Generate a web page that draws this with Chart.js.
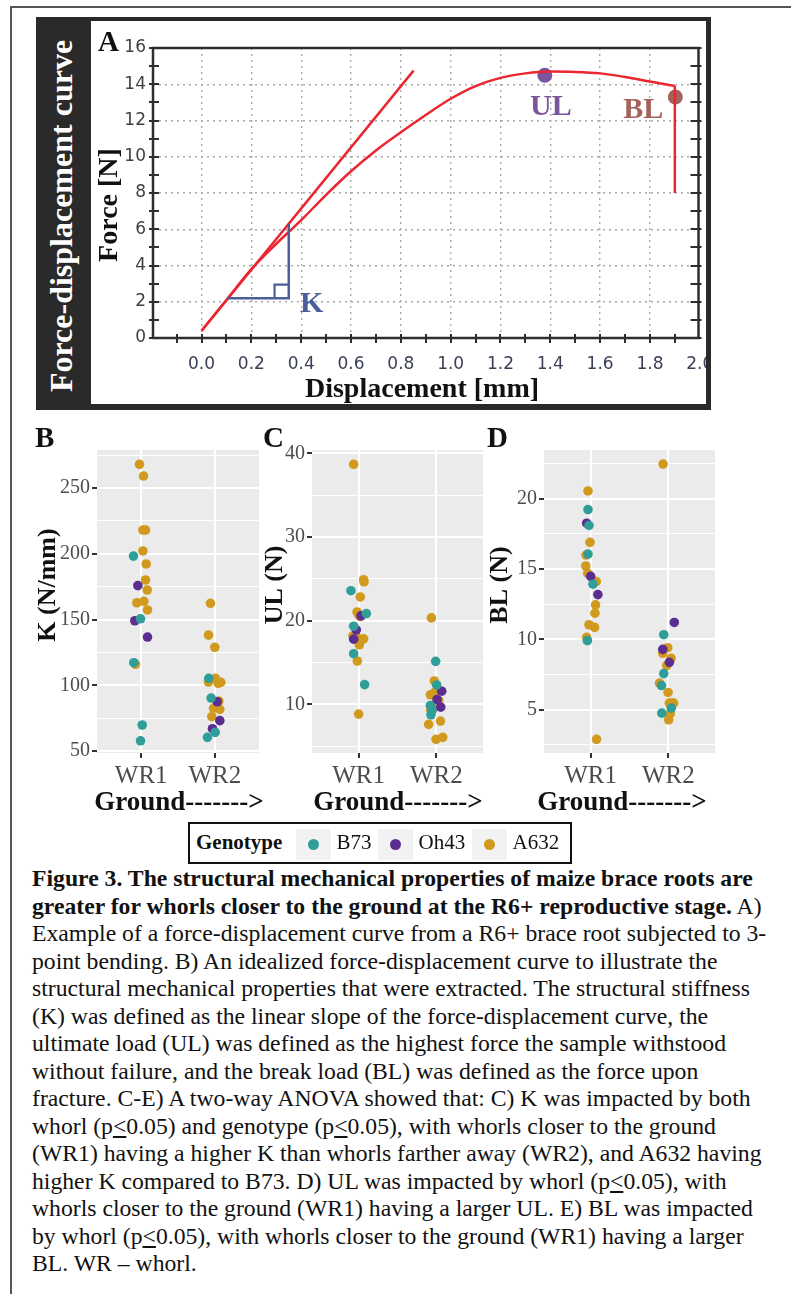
<!DOCTYPE html>
<html>
<head>
<meta charset="utf-8">
<title>Figure 3</title>
<script src="https://cdn.jsdelivr.net/npm/chart.js@4.4.1/dist/chart.umd.min.js"></script>
<style>
  html, body { margin: 0; padding: 0; background: #fff; }
  body { position: relative; width: 791px; height: 1294px; overflow: hidden;
         font-family: "Liberation Serif", "Times New Roman", serif; color: #111; }
  .frame { position: absolute; left: 10px; top: 6px; width: 820px; height: 1320px;
           border-left: 2px solid #555; border-top: 2px solid #555; }
  .boxA { position: absolute; left: 36px; top: 17px; width: 675px; height: 393px; background: #2a2a2a; }
  .stripA { position: absolute; left: -139px; top: 195.5px; width: 400px; height: 40px; line-height: 40px;
            text-align: center; color: #fff; font-weight: bold; font-size: 32px; white-space: nowrap;
            transform: rotate(-90deg); }
  canvas { position: absolute; }
  #chartA { left: 91px; top: 21px; background: #fff; }
  #chartB { left: 30px; top: 420px; }
  #chartC { left: 255px; top: 420px; }
  #chartD { left: 483px; top: 420px; }
  .legend { position: absolute; left: 188px; top: 822px; width: 380px; height: 38px; border: 2px solid #111; }
  .lg-title { position: absolute; left: 196px; top: 830px; font-size: 21px; line-height: 24px; font-weight: bold; }
  .key { position: absolute; top: 829px; width: 35px; height: 31px; background: #f2f2f2; }
  .key .dot { position: absolute; left: 11.5px; top: 9.5px; width: 11.6px; height: 11.6px; border-radius: 50%; }
  .lg-text { position: absolute; top: 830px; font-size: 21px; line-height: 24px; }
  .caption { position: absolute; left: 32px; top: 865px; font-size: 23.7px; line-height: 27.5px; white-space: nowrap; color: #111; }
</style>
</head>
<body>
<div class="frame"></div>
<div class="boxA"></div>
<div class="stripA">Force-displacement curve</div>
<canvas id="chartA" width="615" height="383"></canvas>
<canvas id="chartB" width="234" height="400"></canvas>
<canvas id="chartC" width="233" height="400"></canvas>
<canvas id="chartD" width="237" height="400"></canvas>
<div class="legend"></div>
<div class="lg-title">Genotype</div>
<div class="caption">
  <div><b>Figure 3. The structural mechanical properties of maize brace roots are</b></div>
  <div><b>greater for whorls closer to the ground at the R6+ reproductive stage.</b> A)</div>
  <div>Example of a force-displacement curve from a R6+ brace root subjected to 3-</div>
  <div>point bending. B) An idealized force-displacement curve to illustrate the</div>
  <div>structural mechanical properties that were extracted. The structural stiffness</div>
  <div>(K) was defined as the linear slope of the force-displacement curve, the</div>
  <div>ultimate load (UL) was defined as the highest force the sample withstood</div>
  <div>without failure, and the break load (BL) was defined as the force upon</div>
  <div>fracture. C-E) A two-way ANOVA showed that: C) K was impacted by both</div>
  <div>whorl (p<u>&lt;</u>0.05) and genotype (p<u>&lt;</u>0.05), with whorls closer to the ground</div>
  <div>(WR1) having a higher K than whorls farther away (WR2), and A632 having</div>
  <div>higher K compared to B73. D) UL was impacted by whorl (p<u>&lt;</u>0.05), with</div>
  <div>whorls closer to the ground (WR1) having a larger UL. E) BL was impacted</div>
  <div>by whorl (p<u>&lt;</u>0.05), with whorls closer to the ground (WR1) having a larger</div>
  <div>BL. WR &ndash; whorl.</div>
</div>

<script>
// ---- panel A: example force-displacement trace ----
const TRACE_X = [0, 0.1, 0.2, 0.3, 0.4, 0.5, 0.6, 0.7, 0.8, 0.9, 1.0, 1.1, 1.2, 1.3, 1.4, 1.5, 1.6, 1.7, 1.8, 1.9];
const TRACE_F = [0.4, 2.1, 3.8, 5.2, 6.5, 7.9, 9.2, 10.35, 11.35, 12.3, 13.2, 13.9, 14.35, 14.6, 14.7, 14.68, 14.6, 14.4, 14.15, 13.9];
const BREAK_X = [1.9, 1.9];
const BREAK_F = [13.9, 8.0];
const SLOPE_X = [0, 0.851];
const SLOPE_F = [0.4, 14.75];
const UL_AT = [1.378, 14.5];
const BL_AT = [1.902, 13.3];
const K_LEG_X = [0.106, 0.35, 0.35];
const K_LEG_F = [2.2, 2.2, 6.3];
const K_BOX_X = [0.293, 0.293, 0.35];
const K_BOX_F = [2.2, 2.95, 2.95];
const A_X_TICKS = [-0.1, 0, 0.1, 0.2, 0.3, 0.4, 0.5, 0.6, 0.7, 0.8, 0.9, 1.0, 1.1, 1.2, 1.3, 1.4, 1.5, 1.6, 1.7, 1.8, 1.9, 2.0];
const A_Y_TICKS = [0, 1, 2, 3, 4, 5, 6, 7, 8, 9, 10, 11, 12, 13, 14, 15, 16];

// ---- panels B-D: jittered points per whorl, [jitter, value] ----
const WHORLS = ['WR1', 'WR2'];
const GENOTYPES = ['B73', 'Oh43', 'A632'];
const GENO_COLORS = ['#2f9e98', '#5c2d91', '#d19a1e'];

const K_B73_WR1 = [[-0.105, 198.3], [-0.009, 150.6], [-0.1, 117.2], [0.014, 69.8], [-0.009, 57.8]];
const K_OH43_WR1 = [[-0.045, 175.8], [-0.086, 149.1], [0.086, 136.7]];
const K_A632_WR1 = [[-0.023, 268.1], [0.032, 259.2], [0.023, 218.1], [0.059, 218.1], [0.023, 202.2], [0.068, 192.3],
                    [0.059, 180.1], [0.082, 172.5], [-0.059, 162.8], [0.036, 163.9], [0.086, 157.3], [-0.077, 116]];
const K_B73_WR2 = [[-0.082, 105.3], [-0.05, 90.3], [0.005, 64.2], [-0.1, 60.4]];
const K_OH43_WR2 = [[0.032, 87.5], [0.068, 73.1], [-0.032, 67]];
const K_A632_WR2 = [[-0.059, 162.4], [-0.086, 138.2], [0, 128.9], [0.009, 105.3], [-0.086, 102.5], [0.045, 101.5],
                    [0.082, 102.3], [0.055, 88], [-0.018, 82.5], [0.068, 81.7], [-0.041, 76.1]];

const UL_B73_WR1 = [[-0.099, 23.59], [0.099, 20.86], [-0.064, 19.35], [-0.064, 16.06], [0.077, 12.37]];
const UL_OH43_WR1 = [[0.03, 20.58], [-0.03, 18.91], [-0.064, 17.8]];
const UL_A632_WR1 = [[-0.064, 38.69], [0.064, 24.9], [0.069, 24.66], [0.021, 22.84], [-0.021, 21.05], [0.004, 20.66],
                     [0.021, 20.5], [-0.073, 18.2], [-0.03, 18.12], [0.064, 17.84], [0.009, 17.13], [-0.017, 15.19], [0, 8.85]];
const UL_B73_WR2 = [[-0.009, 15.15], [0.004, 12.33], [-0.077, 9.88], [-0.056, 9.28], [-0.069, 8.77]];
const UL_OH43_WR2 = [[0.069, 11.58], [0.009, 10.59], [0.056, 9.68]];
const UL_A632_WR2 = [[-0.064, 20.34], [-0.026, 12.81], [-0.013, 11.54], [-0.077, 11.15], [0.03, 10.47], [-0.004, 10.15],
                     [-0.043, 9.48], [-0.073, 9.36], [0.052, 8.01], [-0.099, 7.62], [0.082, 6.07], [-0.004, 5.83]];

const BL_B73_WR1 = [[-0.034, 19.22], [-0.021, 18.09], [-0.034, 16.06], [0.03, 13.92], [-0.042, 9.91]];
const BL_OH43_WR1 = [[-0.051, 18.25], [0, 14.48], [0.093, 13.18]];
const BL_A632_WR1 = [[-0.034, 20.54], [-0.008, 16.89], [-0.059, 15.99], [-0.063, 15.21], [-0.038, 14.69], [0.072, 14.1],
                     [0.063, 12.45], [0.055, 11.86], [-0.021, 11.04], [0.051, 10.85], [-0.051, 10.14], [0.076, 2.9]];
const BL_B73_WR2 = [[-0.059, 10.33], [-0.059, 7.57], [-0.089, 6.72], [0.038, 5.12], [-0.084, 4.76]];
const BL_OH43_WR2 = [[0.076, 11.2], [-0.072, 9.29], [0.013, 8.37]];
const BL_A632_WR2 = [[-0.068, 22.45], [-0.008, 9.41], [-0.072, 9.01], [0.034, 8.66], [-0.021, 8.14], [-0.114, 6.89],
                     [-0.004, 6.23], [0.013, 5.47], [0.046, 5.47], [0.068, 5.47], [0.025, 4.72], [0.004, 4.29]];

const K_TICKS = [50, 75, 100, 125, 150, 175, 200, 225, 250, 275];
const UL_TICKS = [5, 10, 15, 20, 25, 30, 35, 40];
const BL_TICKS = [2.5, 5, 7.5, 10, 12.5, 15, 17.5, 20, 22.5];

// ---- helpers ----
const SERIF = '"Liberation Serif", "Times New Roman", serif';
const RED = '#ea2630';
const K_BLUE = '#4a5e9a';
const UL_PURPLE = '#7c569d';
const BL_BROWN = '#a4625b';

const pts = (xs, ys) => xs.map((x, i) => ({ x: x, y: ys[i] }));
const jitter = (wr1, wr2) => wr1.map(p => ({ x: 1 + p[0], y: p[1] })).concat(wr2.map(p => ({ x: 2 + p[0], y: p[1] })));
const onStep = (v, step) => Math.abs(v / step - Math.round(v / step)) < 1e-6;
const bold = size => 'bold ' + size + 'px ' + SERIF;

function textLayer(items) {
  return {
    id: 'textLayer',
    afterDraw(chart) {
      const ctx = chart.ctx;
      items(chart).forEach(t => {
        ctx.save();
        ctx.font = t.font;
        ctx.fillStyle = t.color || '#111';
        ctx.textAlign = t.align || 'left';
        ctx.textBaseline = 'alphabetic';
        ctx.translate(t.x, t.y);
        if (t.rotate) ctx.rotate(-Math.PI / 2);
        ctx.fillText(t.text, 0, 0);
        ctx.restore();
      });
    }
  };
}

// box, crossing tick marks and mirrored right ticks of the force plot
const frameA = {
  id: 'frameA',
  beforeDatasetsDraw(chart) {
    const { ctx, chartArea: a, scales: { x, y } } = chart;
    ctx.save();
    ctx.strokeStyle = '#2e2e2e';
    ctx.lineWidth = 2;
    ctx.beginPath();
    x.ticks.forEach(t => {
      const px = Math.round(x.getPixelForValue(t.value));
      if (px <= a.left + 1 || px >= a.right - 1) return;
      ctx.moveTo(px, a.bottom - 4);
      ctx.lineTo(px, a.bottom + 5);
    });
    y.ticks.forEach(t => {
      const py = Math.round(y.getPixelForValue(t.value));
      ctx.moveTo(a.left - 4, py);
      ctx.lineTo(a.left + 6, py);
      ctx.moveTo(a.right - 8, py);
      ctx.lineTo(a.right + 3, py);
    });
    ctx.stroke();
    ctx.lineWidth = 2.5;
    ctx.strokeRect(a.left, a.top, a.right - a.left, a.bottom - a.top);
    ctx.restore();
  }
};

const panelFill = {
  id: 'panelFill',
  beforeDraw(chart) {
    const { ctx, chartArea: a } = chart;
    ctx.save();
    ctx.fillStyle = '#ebebeb';
    ctx.fillRect(a.left, a.top, a.right - a.left, a.bottom - a.top);
    ctx.restore();
  }
};

// ---- panel A ----
const lineSet = (data, color, width, extra) => Object.assign({
  data: data, showLine: true, borderColor: color, borderWidth: width, pointRadius: 0, fill: false
}, extra || {});

new Chart(document.getElementById('chartA'), {
  type: 'scatter',
  data: {
    datasets: [
      lineSet(pts(K_LEG_X, K_LEG_F), K_BLUE, 2.5),
      lineSet(pts(K_BOX_X, K_BOX_F), K_BLUE, 2.2),
      lineSet(pts(SLOPE_X, SLOPE_F), RED, 2.5),
      lineSet(pts(TRACE_X, TRACE_F), RED, 2.5, { cubicInterpolationMode: 'monotone' }),
      lineSet(pts(BREAK_X, BREAK_F), RED, 2.5),
      { data: [{ x: UL_AT[0], y: UL_AT[1] }], pointRadius: 7.5, backgroundColor: UL_PURPLE, borderWidth: 0 },
      { data: [{ x: BL_AT[0], y: BL_AT[1] }], pointRadius: 7.5, backgroundColor: BL_BROWN, borderWidth: 0 }
    ]
  },
  options: {
    responsive: false,
    animation: false,
    devicePixelRatio: 1,
    layout: { padding: { left: 0, top: 27, right: 6, bottom: 0 } },
    plugins: { legend: { display: false }, tooltip: { enabled: false } },
    scales: {
      x: {
        type: 'linear', min: -0.195, max: 1.995,
        afterBuildTicks: s => { s.ticks = A_X_TICKS.map(v => ({ value: v })); },
        afterFit: s => { s.height = 66; s.paddingLeft = 0; s.paddingRight = 0; },
        ticks: {
          autoSkip: false, maxRotation: 0, padding: 16, color: '#3a3f55',
          font: { family: '"DejaVu Sans"', size: 17 },
          callback: v => (v >= 0 && Math.round(v * 10) % 2 === 0) ? v.toFixed(1) : ''
        },
        grid: {
          drawTicks: false, lineWidth: 1.4,
          color: c => { const v = c.tick ? c.tick.value : -1; return (v >= 0 && v < 1.99 && Math.round(v * 10) % 2 === 0) ? '#a9a9a9' : 'rgba(0,0,0,0)'; }
        },
        border: { display: false, dash: [2, 4] }
      },
      y: {
        type: 'linear', min: 0, max: 16,
        afterBuildTicks: s => { s.ticks = A_Y_TICKS.map(v => ({ value: v })); },
        afterFit: s => { s.width = 62; s.paddingTop = 0; s.paddingBottom = 0; },
        ticks: {
          autoSkip: false, padding: 7, color: '#45403f',
          font: { family: '"DejaVu Sans"', size: 17 },
          callback: v => v % 2 === 0 ? String(v) : ''
        },
        grid: {
          drawTicks: false, lineWidth: 1.4,
          color: c => { const v = c.tick ? c.tick.value : 0; return (v >= 2 && v < 16 && v % 2 === 0) ? '#a9a9a9' : 'rgba(0,0,0,0)'; }
        },
        border: { display: false, dash: [2, 4] }
      }
    }
  },
  plugins: [frameA, textLayer(chart => {
    const { x, y } = chart.scales;
    return [
      { text: 'A', x: 7, y: 30, font: bold(29) },
      { text: 'Force [N]', x: 26, y: 184, font: bold(28), align: 'center', rotate: true },
      { text: 'Displacement [mm]', x: 331, y: 376, font: bold(28), align: 'center' },
      { text: 'UL', x: x.getPixelForValue(UL_AT[0]) + 6, y: y.getPixelForValue(UL_AT[1]) + 40, font: bold(30), color: UL_PURPLE, align: 'center' },
      { text: 'BL', x: x.getPixelForValue(BL_AT[0]) - 32, y: y.getPixelForValue(BL_AT[1]) + 21, font: bold(30), color: BL_BROWN, align: 'center' },
      { text: 'K', x: x.getPixelForValue(K_LEG_X[1]) + 23, y: y.getPixelForValue(K_LEG_F[1]) + 14, font: bold(30), color: K_BLUE, align: 'center' }
    ];
  })]
});

// ---- panels B-D ----
function jitterPanel(id, groups, yMin, yMax, yTicks, yMajor, layout, texts) {
  const isMajor = v => onStep(v, yMajor);
  new Chart(document.getElementById(id), {
    type: 'scatter',
    data: {
      datasets: groups.map((g, i) => ({
        label: GENOTYPES[i], data: g, backgroundColor: GENO_COLORS[i], borderWidth: 0, pointRadius: 4.8
      }))
    },
    options: {
      responsive: false,
      animation: false,
      devicePixelRatio: 1,
      layout: { padding: { left: 0, top: 30, right: 5, bottom: 0 } },
      plugins: { legend: { display: false }, tooltip: { enabled: false } },
      scales: {
        x: {
          type: 'linear', min: 0.4, max: 2.6,
          afterBuildTicks: s => { s.ticks = WHORLS.map((w, i) => ({ value: i + 1 })); },
          afterFit: s => { s.height = 67; s.paddingLeft = 0; s.paddingRight = 0; },
          ticks: {
            autoSkip: false, maxRotation: 0, padding: 3, color: '#4d4d4d',
            font: { family: SERIF, size: 25 },
            callback: v => WHORLS[Math.round(v) - 1]
          },
          grid: { color: '#ffffff', lineWidth: 2, tickColor: '#333333', tickWidth: 2, tickLength: 5 },
          border: { display: false }
        },
        y: {
          type: 'linear', min: yMin, max: yMax,
          afterBuildTicks: s => { s.ticks = yTicks.map(v => ({ value: v })); },
          afterFit: s => { s.width = layout.left; s.paddingTop = 0; s.paddingBottom = 0; },
          ticks: {
            autoSkip: false, padding: 2, color: '#4d4d4d',
            font: { family: SERIF, size: 20 },
            callback: v => isMajor(v) ? String(v) : ''
          },
          grid: {
            color: '#ffffff',
            lineWidth: c => (c.tick && isMajor(c.tick.value)) ? 2 : 1,
            tickColor: c => (c.tick && isMajor(c.tick.value)) ? '#333333' : 'rgba(0,0,0,0)',
            tickWidth: 2, tickLength: 5
          },
          border: { display: false }
        }
      }
    },
    plugins: [panelFill, textLayer(() => texts)]
  });
}

jitterPanel('chartB',
  [jitter(K_B73_WR1, K_B73_WR2), jitter(K_OH43_WR1, K_OH43_WR2), jitter(K_A632_WR1, K_A632_WR2)],
  48.5, 279, K_TICKS, 50, { left: 67 },
  [
    { text: 'B', x: 5, y: 27, font: bold(29) },
    { text: 'K (N/mm)', x: 25, y: 165, font: bold(26), align: 'center', rotate: true },
    { text: 'Ground------->', x: 149, y: 390, font: bold(27), align: 'center' }
  ]);

jitterPanel('chartC',
  [jitter(UL_B73_WR1, UL_B73_WR2), jitter(UL_OH43_WR1, UL_OH43_WR2), jitter(UL_A632_WR1, UL_A632_WR2)],
  4.2, 40.4, UL_TICKS, 10, { left: 57 },
  [
    { text: 'C', x: 8, y: 27, font: bold(29) },
    { text: 'UL (N)', x: 26.5, y: 165, font: bold(26), align: 'center', rotate: true },
    { text: 'Ground------->', x: 143, y: 390, font: bold(27), align: 'center' }
  ]);

jitterPanel('chartD',
  [jitter(BL_B73_WR1, BL_B73_WR2), jitter(BL_OH43_WR1, BL_OH43_WR2), jitter(BL_A632_WR1, BL_A632_WR2)],
  1.93, 23.45, BL_TICKS, 5, { left: 61 },
  [
    { text: 'D', x: 4, y: 27, font: bold(29) },
    { text: 'BL (N)', x: 23.5, y: 165, font: bold(26), align: 'center', rotate: true },
    { text: 'Ground------->', x: 139, y: 390, font: bold(27), align: 'center' }
  ]);

// ---- shared genotype legend ----
const LEGEND_SLOTS = [296, 378, 472];
GENOTYPES.forEach((g, i) => {
  const key = document.createElement('div');
  key.className = 'key';
  key.style.left = LEGEND_SLOTS[i] + 'px';
  const dot = document.createElement('div');
  dot.className = 'dot';
  dot.style.background = GENO_COLORS[i];
  key.appendChild(dot);
  document.body.appendChild(key);
  const lab = document.createElement('div');
  lab.className = 'lg-text';
  lab.style.left = (LEGEND_SLOTS[i] + 40.5) + 'px';
  lab.textContent = g;
  document.body.appendChild(lab);
});
</script>
</body>
</html>
